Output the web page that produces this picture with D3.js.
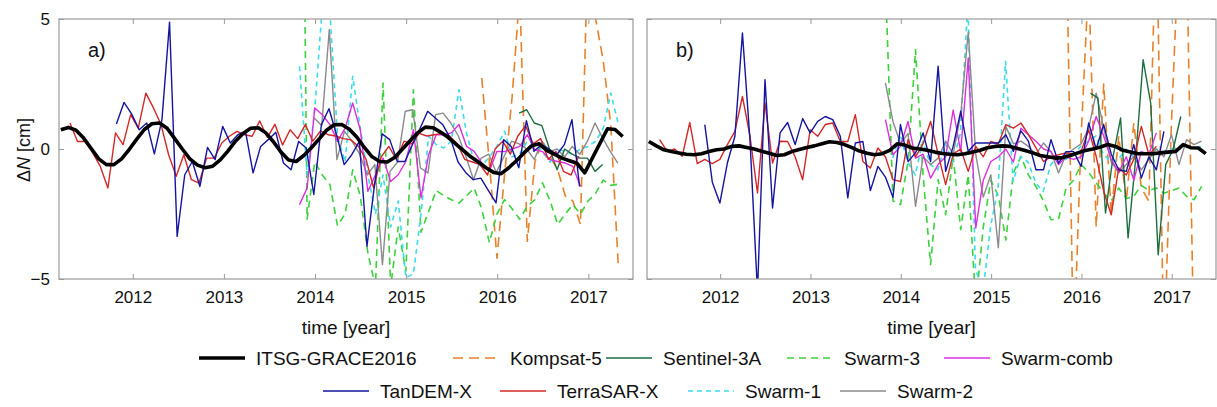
<!DOCTYPE html>
<html><head><meta charset="utf-8">
<script src="https://cdn.jsdelivr.net/npm/d3@7"></script>
<style>
html,body{margin:0;padding:0;background:#fff;}
svg text{font-family:"Liberation Sans",Arial,sans-serif;fill:#111;}
</style></head>
<body><svg id="chart" width="1217" height="407"></svg>
<script>
// ---------- DATA (monthly values; time = start + i/12, decimal years) ----------
const xTickYears = [2012, 2013, 2014, 2015, 2016, 2017];
const yTickValues = [-5, 0, 5];
const seriesNames = ["ITSG-GRACE2016","Kompsat-5","Sentinel-3A","Swarm-3","Swarm-comb","TanDEM-X","TerraSAR-X","Swarm-1","Swarm-2"];

// Panel a
const graceA_start = 2011.21;
const graceA = [0.74,0.83,0.72,0.42,0.02,-0.38,-0.6,-0.6,-0.38,-0.02,
  0.38,0.75,0.97,1.0,0.8,0.4,0.0,-0.38,-0.62,-0.72,-0.66,-0.42,
  -0.08,0.3,0.6,0.8,0.82,0.62,0.28,-0.12,-0.42,-0.48,-0.25,0.05,
  0.38,0.72,0.93,0.94,0.76,0.45,0.05,-0.3,-0.48,-0.5,-0.32,0.0,
  0.32,0.62,0.84,0.82,0.65,0.45,0.2,-0.05,-0.3,-0.5,-0.72,-0.9,
  -0.95,-0.72,-0.45,-0.15,0.12,0.2,-0.05,-0.2,-0.35,-0.45,-0.55,-0.92,
  null,null,0.78,0.75,0.48];
const kompsatA_start = 2015.83;
const kompsatA = [2.73,-0.5,-4.2,-1.0,2.0,6.0,-3.55,-0.5,0.3,-0.3,-0.8,-1.8,-2.0,-2.9,8.0,5.0,3.4,0.9,-4.6];
const sentinelA_start = 2016.24;
const sentinelA = [1.38,1.51,1.0,0.9,0.0,-0.8,0.0,-0.2,-0.35,-0.35,-0.86,-0.6];
const swarm3A_start = 2013.83;
const swarm3A = [25,-2.7,-0.5,-1.0,-1.37,-2.95,-2.5,-0.8,-1.8,-4.0,-5.3,2.54,-5.3,-3.0,-4.7,2.28,-3.2,-2.4,-1.6,-1.8,-1.95,-2.08,-1.8,-1.5,-2.3,-3.6,-2.5,-1.95,-2.3,-2.7,-2.2,-1.95,-1.3,-2.0,-2.9,-2.5,-2.14,-2.5,-2.0,-1.7,-1.2,-1.4,-1.35];
const swarmCombA_start = 2013.83;
const swarmCombA = [-2.14,-1.5,1.58,1.32,0.94,0.29,0.8,1.77,0.74,-1.63,-0.99,-0.35,-1.25,-0.99,-0.48,0.74,-1.88,-0.22,0.55,0.55,0.62,0.94,0.1,-0.09,-0.54,-0.86,-0.09,-0.1,0.0,0.1,0.55,-0.03,-0.1,-0.41,-0.48,-0.54,-0.67,-1.44];
const tandemA_start = 2011.82;
const tandemA = [0.96,1.79,1.35,0.74,1.0,-0.19,1.13,4.88,-3.36,-0.99,-0.48,-1.44,0.06,-0.41,0.87,0.23,0.55,0.68,-0.92,0.1,0.36,0.64,-0.54,-0.8,0.29,0.04,
  -1.75,0.93,1.55,0.55,-0.6,-0.22,0.29,-3.74,-1.37,0.58,0.36,-0.48,-0.48,
  0.17,0.8,1.45,1.19,0.93,0.4,-0.5,-0.9,-1.18,-1.12,-1.6,-2.07,
  0.36,0.1,-0.72,1.09,-0.09,0.17,0.0,-0.22,0.17,1.13,-1.44];
const terraA_start = 2011.31;
const terraA = [1.0,0.29,0.29,-0.15,-0.67,-1.5,0.62,0.17,1.32,
  0.8,2.15,1.58,0.94,-0.22,-1.05,-0.22,-1.18,-1.31,-0.35,-0.35,0.23,
  0.49,0.68,0.55,0.49,1.08,0.45,0.95,0.15,0.74,0.4,0.94,0.3,
  0.7,0.55,0.5,0.4,0.35,0.1,-0.4,-1.5,-0.3,0.1,-0.4,0.3,
  0.2,0.6,0.5,0.55,0.6,0.5,0.2,-0.4,-0.5,-0.6,-1.0,0.0,
  0.3,-0.2,0.5,0.9,0.2,0.4,-0.4,-0.1,-0.86,-1.0,-0.28];
const swarm1A_start = 2013.83;
const swarm1A = [3.18,-1.0,1.5,5.5,5.3,0.5,-0.5,2.8,0.8,-1.0,-2.5,-1.0,-3.0,-2.0,-4.95,-4.8,-2.5,0.5,0.17,0.04,0.3,2.28,0.6,-0.5,-0.67,-0.3,0.1,0.68,-0.3,-0.2,0.3,0.2,-0.1,-0.5,0.0,-0.1,-0.2,0.0,0.1,0.3,0.8,2.15,0.94];
const swarm2A_start = 2013.99;
const swarm2A = [1.19,0.9,4.59,-0.41,0.68,0.3,-0.2,-1.0,-0.6,-4.45,-0.86,-0.5,1.45,1.51,-0.73,-0.92,1.32,1.38,1.0,0.5,-0.3,-1.18,-0.35,-0.2,-0.9,-0.3,0.3,0.2,0.0,-0.4,0.3,-0.1,0.0,-0.3,0.1,-0.2,0.3,1.0,0.42,-0.09,-0.54];

// Panel b
const graceB_start = 2011.21;
const graceB = [0.29,0.12,-0.03,-0.1,-0.15,-0.2,-0.22,-0.18,-0.1,-0.03,
  0.0,0.1,0.12,0.06,0.0,-0.09,-0.16,-0.25,-0.22,-0.1,-0.02,0.06,
  0.12,0.2,0.28,0.25,0.17,0.05,-0.08,-0.16,-0.22,-0.18,-0.05,0.2,
  0.15,0.04,0.0,-0.05,-0.12,-0.17,-0.2,-0.22,-0.18,-0.12,-0.05,0.05,
  0.1,0.12,0.1,0.02,-0.06,-0.15,-0.25,-0.3,-0.35,-0.33,-0.25,-0.15,
  -0.06,0.0,0.08,0.17,0.1,-0.05,-0.12,-0.18,-0.18,-0.18,-0.15,-0.12,
  -0.09,0.17,0.05,0.04,-0.18];
const kompsatB_start = 2015.83;
const kompsatB = [9,-8,0.5,6.5,-3.0,2.5,-2.5,0.5,-2.0,1.0,-1.5,-2.0,9,-8,1.0,8,8,-8];
const sentinelB_start = 2016.1;
const sentinelB = [2.15,1.96,-2.46,-0.3,1.19,-3.42,-0.4,3.43,1.77,-4.07,-0.6,0.0,1.25];
const swarm3B_start = 2013.83;
const swarm3B = [6.5,-2.0,-2.14,-0.5,3.82,-0.99,-4.45,-1.18,-2.53,-0.28,-3.1,-1.0,-6.0,-3.0,-1.2,-1.8,-3.5,-0.92,-0.28,-1.0,-1.44,-2.0,-2.72,-2.7,-1.5,-1.2,-0.6,-0.9,-1.3,-1.69,-2.0,-1.5,-1.9,-1.82,-1.4,-1.6,-1.5,-1.7,-1.6,-1.5,-1.82,-1.95,-1.44];
const swarmCombB_start = 2013.83;
const swarmCombB = [1.13,-0.22,0.1,1.06,-0.35,-0.2,-1.12,-0.6,-0.3,1.5,-0.1,3.5,-3.04,-1.2,-0.48,-0.3,0.0,-0.5,0.8,0.55,0.3,0.0,-0.1,-0.6,-0.3,-0.4,-0.3,0.3,1.25,0.5,-0.4,-0.9,-0.3,-1.2,-0.1,-0.2,0.62];
const tandemB_start = 2011.83;
const tandemB = [0.94,-1.28,-2.08,
  -0.54,0.49,4.46,0.36,-5.5,2.67,-2.27,0.62,1.02,0.17,1.17,0.62,
  1.06,1.25,1.13,0.49,-1.88,0.23,0.29,-1.6,-0.67,-1.08,-1.86,0.94,
  -0.48,-0.15,0.62,-0.48,3.18,-0.86,0.1,1.45,-0.09,0.23,0.23,0.23,
  0.23,0.55,-0.09,0.7,0.3,-0.8,-0.8,0.36,-0.54,-0.1,-0.1,-0.67,
  1.0,0.0,0.94,-0.2,-0.8,-0.86,0.17,-1.12,-0.3,-0.8,0.68];
const terraB_start = 2011.33;
const terraB = [0.36,-0.09,0.0,-0.28,1.02,-0.56,-0.4,-0.56,-0.4,
  0.17,0.68,2.02,0.5,-1.69,1.77,-0.54,0.3,0.29,-0.3,-1.18,0.74,
  0.49,0.94,1.0,0.29,0.29,1.32,-0.48,-0.73,0.04,-0.3,-1.18,-1.25,
  0.36,-0.3,0.2,1.06,-0.2,-1.37,-0.2,0.0,-0.86,0.1,-0.3,0.29,
  0.2,0.94,0.8,1.0,0.55,0.04,-0.48,-0.3,-0.22,-0.15,-0.2,-0.1,
  0.74,-0.28,-1.63,-2.53,-0.73,-1.0,-0.4,0.87,-0.22,0.1];
const swarm1B_start = 2013.91;
const swarm1B = [-0.35,0.55,-0.5,-1.0,0.3,-0.6,-0.8,0.2,-0.5,0.6,5.6,-4.6,-5.5,-3.0,-1.5,3.37,-1.25,-0.3,-0.5,-1.3,-1.63,-0.6,-0.3,-0.4,-0.2,0.1,0.3,0.5,-0.2,-0.5,-0.4,0.0,-0.3,-0.1,-0.2,0.0,-0.1,0.0,0.1,0.1,0.0,0.1];
const swarm2B_start = 2013.83;
const swarm2B = [2.54,1.06,0.2,0.6,-2.2,-0.3,-0.6,-0.35,0.3,-0.2,1.32,4.5,-0.22,-1.85,-0.99,-3.8,0.87,0.2,0.3,0.1,-0.2,0.23,-0.1,-0.92,-0.2,0.0,0.2,0.8,2.15,0.8,-0.5,-0.9,-0.6,-0.3,-0.8,-0.4,0.0,-0.3,0.55,-0.6,0.36,0.17,0.3];

// ---------- STYLES ----------
const styles = {
  "ITSG-GRACE2016": {color:"#000000", width:3.6, dash:null},
  "Kompsat-5":      {color:"#E8822A", width:1.6, dash:"10,6"},
  "Sentinel-3A":    {color:"#1C6E40", width:1.4, dash:null},
  "Swarm-3":        {color:"#3CD23C", width:1.6, dash:"7,5"},
  "Swarm-comb":     {color:"#DE2EDE", width:1.4, dash:null},
  "TanDEM-X":       {color:"#1414A0", width:1.4, dash:null},
  "TerraSAR-X":     {color:"#D42828", width:1.4, dash:null},
  "Swarm-1":        {color:"#3CDCEA", width:1.6, dash:"5,4"},
  "Swarm-2":        {color:"#8A8A8A", width:1.4, dash:null}
};

const panels = [
  {id:"a", x0:59, x1:633, label:"a)", showY:true, series:[
    ["Kompsat-5",kompsatA_start,kompsatA],["Swarm-3",swarm3A_start,swarm3A],["Swarm-1",swarm1A_start,swarm1A],
    ["Swarm-2",swarm2A_start,swarm2A],["Sentinel-3A",sentinelA_start,sentinelA],["Swarm-comb",swarmCombA_start,swarmCombA],
    ["TerraSAR-X",terraA_start,terraA],["TanDEM-X",tandemA_start,tandemA],["ITSG-GRACE2016",graceA_start,graceA]]},
  {id:"b", x0:647, x1:1216, label:"b)", showY:false, series:[
    ["Kompsat-5",kompsatB_start,kompsatB],["Swarm-3",swarm3B_start,swarm3B],["Swarm-1",swarm1B_start,swarm1B],
    ["Swarm-2",swarm2B_start,swarm2B],["Sentinel-3A",sentinelB_start,sentinelB],["Swarm-comb",swarmCombB_start,swarmCombB],
    ["TerraSAR-X",terraB_start,terraB],["TanDEM-X",tandemB_start,tandemB],["ITSG-GRACE2016",graceB_start,graceB]]}
];

const svg = d3.select("#chart");
const yTop = 19, yBot = 279;
const y = d3.scaleLinear().domain([-5,5]).range([yBot,yTop]);
const boxColor = "#9a9a9a";

panels.forEach(p => {
  const x = d3.scaleLinear().domain([2011.19, 2017.49]).range([p.x0, p.x1]);
  const g = svg.append("g");
  const clipId = "clip-" + p.id;
  svg.append("clipPath").attr("id", clipId).append("rect")
    .attr("x", p.x0).attr("y", yTop).attr("width", p.x1 - p.x0).attr("height", yBot - yTop);

  const tickLen = 5;
  const gb = g.append("g").attr("transform", `translate(0,${yBot})`)
    .call(d3.axisBottom(x).tickValues(xTickYears).tickFormat(d3.format("d")).tickSize(-tickLen).tickPadding(12));
  const gt = g.append("g").attr("transform", `translate(0,${yTop})`)
    .call(d3.axisTop(x).tickValues(xTickYears).tickFormat("").tickSize(-tickLen));
  const gl = g.append("g").attr("transform", `translate(${p.x0},0)`)
    .call(d3.axisLeft(y).tickValues(yTickValues).tickFormat(p.showY ? d3.format("d") : "").tickSize(-tickLen).tickPadding(9));
  const gr = g.append("g").attr("transform", `translate(${p.x1},0)`)
    .call(d3.axisRight(y).tickValues(yTickValues).tickFormat("").tickSize(-tickLen));
  [gb,gt,gl,gr].forEach(a => {
    a.select(".domain").remove();
    a.selectAll(".tick line").attr("stroke", boxColor);
    a.selectAll(".tick text").style("font-size","17px").style("font-family",'"Liberation Sans",Arial,sans-serif').attr("fill","#111");
  });

  const plot = g.append("g").attr("clip-path", `url(#${clipId})`);
  p.series.forEach(([name, start, vals]) => {
    const st = styles[name];
    const pts = vals.map((v,i) => ({t: start + i/12, v})).filter(d => d.v !== null);
    const line = d3.line().x(d => x(d.t)).y(d => y(d.v));
    plot.append("path").datum(pts)
      .attr("d", line).attr("fill","none")
      .attr("stroke", st.color).attr("stroke-width", st.width)
      .attr("stroke-dasharray", st.dash)
      .attr("stroke-linejoin","round");
  });

  g.append("rect").attr("x", p.x0).attr("y", yTop).attr("width", p.x1 - p.x0).attr("height", yBot - yTop)
    .attr("fill","none").attr("stroke", boxColor).attr("stroke-width",1.2);

  g.append("text").attr("x", p.x0 + 29).attr("y", 57).style("font-size","20px").text(p.label);
  g.append("text").attr("x", (p.x0 + p.x1)/2).attr("y", 334).attr("text-anchor","middle")
    .style("font-size","19px").text("time [year]");
});

const yl = svg.append("text").attr("transform","translate(30,150) rotate(-90)")
  .attr("text-anchor","middle").style("font-size","18px");
yl.append("tspan").text("\u0394");
yl.append("tspan").style("font-style","italic").text("N");
yl.append("tspan").text(" [cm]");

const legendItems = [
  {name:"ITSG-GRACE2016", x:199, row:0},
  {name:"Kompsat-5", x:453, row:0},
  {name:"Sentinel-3A", x:606, row:0},
  {name:"Swarm-3", x:787, row:0},
  {name:"Swarm-comb", x:944, row:0},
  {name:"TanDEM-X", x:323, row:1},
  {name:"TerraSAR-X", x:500, row:1},
  {name:"Swarm-1", x:688, row:1},
  {name:"Swarm-2", x:840, row:1}
];
const rowY = [358, 391];
const leg = svg.append("g");
legendItems.forEach(it => {
  const st = styles[it.name];
  const yy = rowY[it.row];
  leg.append("line").attr("x1", it.x).attr("x2", it.x + 46).attr("y1", yy).attr("y2", yy)
    .attr("stroke", st.color).attr("stroke-width", st.width).attr("stroke-dasharray", st.dash);
  leg.append("text").attr("x", it.x + 57).attr("y", yy + 7).style("font-size","19px").text(it.name);
});
</script></body></html>
